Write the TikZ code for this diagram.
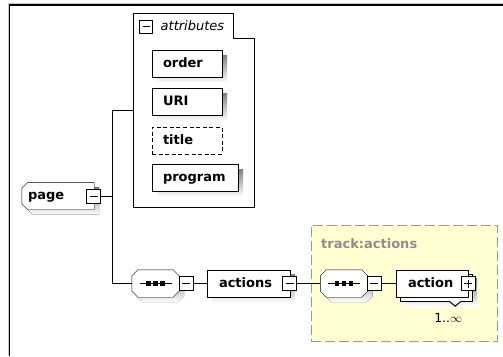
\documentclass[tikz,border=0pt]{standalone}
\usepackage{fontspec}
\setmainfont{DejaVu Sans}
\usetikzlibrary{calc}
\pgfdeclarelayer{back}
\pgfsetlayers{back,main}
\definecolor{shade}{HTML}{C6C6C6}
\definecolor{trackfill}{HTML}{FFFFD2}
\definecolor{trackline}{HTML}{999999}
\definecolor{tracktext}{HTML}{8E8E8E}
% outline of an element box with the two left corners cut off, shifted by #2
\newcommand\bevelleft[2]{($(#1.north west)+(6+#2,#2)$) -- ($(#1.north east)+(#2,#2)$) -- ($(#1.south east)+(#2,#2)$) -- ($(#1.south west)+(6+#2,#2)$) -- ($(#1.south west)+(#2,-6+#2)$) -- ($(#1.north west)+(#2,6+#2)$) -- cycle}
% outline of a compositor box with all four corners cut off, shifted by #2
\newcommand\bevelall[2]{($(#1.north west)+(6+#2,#2)$) -- ($(#1.north east)+(-6+#2,#2)$) -- ($(#1.north east)+(#2,6+#2)$) -- ($(#1.south east)+(#2,-6+#2)$) -- ($(#1.south east)+(-6+#2,#2)$) -- ($(#1.south west)+(6+#2,#2)$) -- ($(#1.south west)+(#2,-6+#2)$) -- ($(#1.north west)+(#2,6+#2)$) -- cycle}
\begin{document}
\begin{tikzpicture}[x=1pt, y=-1pt, line width=1.2pt,
  txt/.style={font=\fontsize{13pt}{15pt}\selectfont\bfseries, text height=9.5pt, text depth=2.5pt},
  elem/.style={txt, draw, fill=white, rectangle, minimum height=27pt, inner ysep=0pt, align=left},
  toggle/.style={draw, fill=white, minimum size=14pt, inner sep=0pt,
    path picture={\draw[line width=1pt] ($(path picture bounding box.west)+(3,0)$) -- ($(path picture bounding box.east)+(-3,0)$);}},
  toggleplus/.style={toggle,
    path picture={\draw[line width=1pt] ($(path picture bounding box.west)+(3,0)$) -- ($(path picture bounding box.east)+(-3,0)$);
                  \draw[line width=1pt] ($(path picture bounding box.north)+(0,3)$) -- ($(path picture bounding box.south)+(0,-3)$);}},
  seq/.style={minimum width=47pt, minimum height=27pt, inner sep=0pt,
    path picture={\draw[line width=1pt] ($(path picture bounding box.center)+(-16,0)$) -- ($(path picture bounding box.center)+(16,0)$);
      \foreach \d in {-7,0,7}{\fill ($(path picture bounding box.center)+(\d-2.3,-2.3)$) rectangle ++(4.6,4.6);}}},
  group/.style={draw=trackline, fill=trackfill, dash pattern=on 10pt off 4pt, minimum width=186pt, minimum height=116pt, inner sep=0pt}
]
\useasboundingbox (0,0) rectangle (503,356);

% enclosing frame
\draw[gray!45, line width=1pt] (8,356) -- (8,3.2) -- (503,3.2);
\draw[line width=1.4pt] (9.7,356) -- (9.7,4.8) -- (503,4.8);

% complex type group, drawn beneath everything else
\begin{pgfonlayer}{back}
  \node[group] (track) at (404,283) {};
  \node[txt, text=tracktext, anchor=west, inner sep=0pt] (tracklbl) at (321,244.5) {track:actions};
\end{pgfonlayer}

% root element
\node[txt, minimum height=27pt, text width=60pt, inner xsep=6pt, inner ysep=0pt, align=left] (page) at (58,196) {page};
\node[toggle] (pagetog) at (93.5,196) {};

% attribute group
\node[minimum width=121pt, minimum height=194pt, inner sep=0pt] (attr) at (193.5,110) {};
\node[toggle, minimum size=13pt] (attrtog) at (146,26.5) {};
\node[font=\fontsize{13pt}{15pt}\selectfont\itshape, text height=9.5pt, text depth=2.5pt, anchor=west, inner sep=0pt] (attrlbl) at (160.5,27) {attributes};
\node[elem, text width=48pt, inner xsep=11pt] (order) at (187,64) {order};
\node[elem, text width=48pt, inner xsep=11pt] (uri) at (187,102) {URI};
\node[elem, text width=48pt, inner xsep=11pt, dash pattern=on 4pt off 2.6pt] (title) at (187,140.5) {title};
\node[elem, text width=64pt, inner xsep=11pt] (program) at (195,178) {program};

% content model
\node[seq] (seqa) at (155.5,283.5) {};
\node[toggle] (seqatog) at (186,283.5) {};
\node[elem, text width=59pt, inner xsep=12pt] (actions) at (248.5,283.5) {actions};
\node[toggle] (actionstog) at (289.5,283.5) {};
\node[seq] (seqb) at (344,283.5) {};
\node[toggle] (seqbtog) at (374,283.5) {};
\node[elem, text width=48pt, inner xsep=12pt] (action) at (432,283.5) {action};
\node[toggleplus] (actiontog) at (468,283.5) {};
\draw[fill=white, line width=1pt] ($(action.south east)+(-19,4)$) -- ($(action.south east)+(-13,9)$) -- ($(action.south east)+(-7,4)$);
\node[font=\fontsize{12.5pt}{14pt}\selectfont, inner sep=0pt] (mult) at ($(action.south east)+(-20,20.5)$) {1..$\infty$};

% group outline, shapes and shadows behind the labels
\begin{pgfonlayer}{back}
  \filldraw[fill=white] (attr.north west) -- ($(attr.north west)+(100,0)$) -- ($(attr.north west)+(100,25)$)
    -- ($(attr.north east)+(0,25)$) -- (attr.south east) -- (attr.south west) -- cycle;
  \fill[shade] \bevelleft{page}{5};
  \filldraw[fill=white] \bevelleft{page}{0};
  \fill[shade] \bevelall{seqa}{5};
  \filldraw[fill=white] \bevelall{seqa}{0};
  \fill[shade] \bevelall{seqb}{5};
  \filldraw[fill=white] \bevelall{seqb}{0};
  \foreach \n in {order,uri,program,actions}
    \fill[shade] ($(\n.north west)+(5,5)$) rectangle ($(\n.south east)+(5,5)$);
  \fill[shade] ($(action.north west)+(9,9)$) rectangle ($(action.south east)+(9,9)$);
  \filldraw[fill=white] ($(action.north west)+(4,4)$) rectangle ($(action.south east)+(4,4)$);
\end{pgfonlayer}

% connectors
\coordinate (split) at (112.5,196);
\draw (pagetog.east) -- (split) |- (attr.west);
\draw (split) |- (seqa.west);
\draw (seqatog.east) -- (actions.west);
\draw (actionstog.east) -- (seqb.west);
\draw (seqbtog.east) -- (action.west);
\end{tikzpicture}
\end{document}
